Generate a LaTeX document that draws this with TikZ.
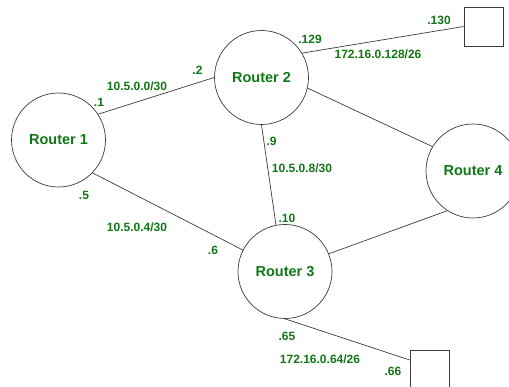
\documentclass[tikz,border=0pt]{standalone}
\usepackage{fontspec}
\setmainfont{Liberation Sans}
\definecolor{lblgreen}{RGB}{18,120,22}
\definecolor{wire}{RGB}{60,60,60}
\begin{document}
\begin{tikzpicture}[x=1pt,y=-1pt,
  router/.style={circle,draw=wire,line width=0.7pt,minimum size=94pt,inner sep=0pt,
    text=lblgreen,font=\fontsize{14.5}{16}\selectfont\bfseries},
  host/.style={rectangle,draw=wire,line width=0.7pt,minimum size=39pt,inner sep=0pt},
  addr/.style={text=lblgreen,font=\fontsize{12}{14}\selectfont\bfseries,inner sep=0pt},
  link/.style={draw=wire,line width=0.7pt}]
\useasboundingbox (0,0) rectangle (509,387);
\clip (0,0) rectangle (509,387);
\fill[white] (0,0) rectangle (509,387);

% routers and hosts
\node[router] (r1) at (58.5,140) {Router 1};
\node[router] (r2) at (261.5,77.5) {Router 2};
\node[router] (r3) at (285,271.5) {Router 3};
\node[router] (r4) at (473,171) {Router 4};
\node[host] (h1) at (483.5,26.5) {};
\node[host] (h2) at (429.5,369.5) {};

% links
\draw[link] (r1.33.7) -- (r2.180);
\draw[link] (r1.-44.6) -- (r3.153.6);
\draw[link] (r2.-90) -- (r3.101.8);
\draw[link] (r2.-13.8) -- (r4.149.5);
\draw[link] (r3.22.7) -- (r4.237.5);
\draw[link] (r2.31) -- (h1.west);
\draw[link] (r3.-90) -- ([yshift=9.5pt]h2.west);

% addresses
\node[addr] (a1) at (99,102) {.1};
\node[addr] (n12) at (137,86) {10.5.0.0/30};
\node[addr] (a2) at (197.5,70.5) {.2};
\node[addr] (a5) at (84,195) {.5};
\node[addr] (n13) at (137,227) {10.5.0.4/30};
\node[addr] (a6) at (213,250) {.6};
\node[addr] (a129) at (310,39) {.129};
\node[addr] (n2h) at (378,54.5) {172.16.0.128/26};
\node[addr] (a130) at (439,20) {.130};
\node[addr] (a9) at (271.5,141) {.9};
\node[addr] (n23) at (302,168) {10.5.0.8/30};
\node[addr] (a10) at (287,218) {.10};
\node[addr] (a65) at (287,336) {.65};
\node[addr] (n3h) at (320,359) {172.16.0.64/26};
\node[addr] (a66) at (393,371) {.66};
\end{tikzpicture}
\end{document}
